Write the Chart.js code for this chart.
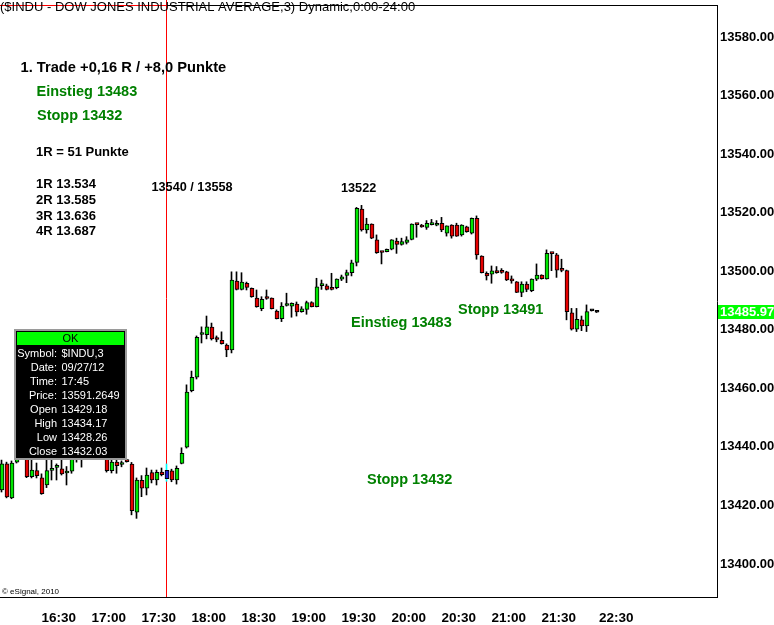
<!DOCTYPE html>
<html>
<head>
<meta charset="utf-8">
<script src="https://cdn.jsdelivr.net/npm/chart.js@4.4.0/dist/chart.umd.min.js"></script>
<style>
  body { margin: 0; background: #fff; }
  canvas { display: block; }
</style>
</head>
<body>
<canvas id="myChart" width="774" height="625"></canvas>
<script>
// 3-minute candles, $INDU 27.09.2012 (bar 0 = left edge of the chart)
const opens = [
  13425.3, 13434.2, 13422.6, 13434.8, 13438.5, 13439.0, 13429.8, 13431.9, 13429.4, 13427.0,
  13432.0, 13433.0, 13432.5, 13431.1, 13431.7, 13437.5, 13439.0, 13440.0, 13442.0, 13441.0,
  13438.0, 13438.0, 13431.9, 13434.8, 13434.0, 13435.3, 13434.1, 13417.7, 13428.6, 13425.9,
  13431.2, 13428.7, 13431.4, 13429.18, 13431.8, 13428.7, 13434.4, 13439.9, 13459.2, 13463.8,
  13478.4, 13478.3, 13480.9, 13476.9, 13476.4, 13474.8, 13473.1, 13496.6, 13493.8, 13495.9,
  13494.2, 13490.8, 13487.2, 13490.9, 13490.8, 13486.4, 13483.8, 13488.3, 13488.1, 13488.8,
  13486.2, 13487.0, 13489.3, 13487.9, 13495.1, 13495.0, 13494.0, 13494.4, 13497.3, 13498.6,
  13499.5, 13503.0, 13521.2, 13514.1, 13516.1, 13510.7, 13506.6, 13506.7, 13507.5, 13510.3,
  13509.2, 13509.8, 13510.9, 13516.1, 13515.3, 13515.0, 13515.9, 13515.7, 13516.4, 13513.0,
  13515.8, 13515.8, 13512.4, 13515.2, 13513.0, 13518.1, 13505.2, 13499.3, 13499.0, 13499.7,
  13499.8, 13499.8, 13496.9, 13496.4, 13492.8, 13495.6, 13493.4, 13497.3, 13498.7, 13497.4,
  13506.2, 13505.6, 13500.5, 13500.2, 13485.8, 13480.2, 13483.4, 13481.3, 13486.5, 13486.0
];
const highs = [
  13435.5, 13434.8, 13435.2, 13439.0, 13441.0, 13440.5, 13435.5, 13434.5, 13430.8, 13435.5,
  13435.5, 13434.2, 13435.5, 13433.3, 13439.0, 13441.0, 13442.0, 13444.0, 13446.0, 13443.0,
  13441.0, 13441.0, 13437.0, 13437.0, 13435.2, 13435.8, 13434.7, 13429.4, 13430.2, 13432.8,
  13432.1, 13432.1, 13432.8, 13434.17, 13432.4, 13433.5, 13439.7, 13461.2, 13465.9, 13477.9,
  13481.0, 13484.7, 13482.3, 13477.9, 13479.3, 13475.2, 13499.8, 13499.8, 13499.5, 13496.3,
  13494.3, 13493.6, 13491.3, 13493.6, 13490.9, 13486.8, 13489.3, 13492.5, 13489.2, 13489.5,
  13487.9, 13489.8, 13489.6, 13497.6, 13497.0, 13495.6, 13499.3, 13497.4, 13498.7, 13500.4,
  13503.8, 13521.8, 13522.5, 13518.1, 13516.2, 13512.4, 13506.7, 13507.6, 13510.8, 13511.3,
  13511.3, 13511.8, 13516.2, 13516.2, 13516.0, 13517.3, 13517.7, 13517.3, 13518.4, 13515.5,
  13515.9, 13516.4, 13515.9, 13515.4, 13518.2, 13518.9, 13505.3, 13499.8, 13501.8, 13501.6,
  13500.9, 13500.0, 13498.4, 13496.5, 13496.4, 13496.4, 13497.4, 13502.5, 13498.8, 13507.3,
  13506.3, 13506.1, 13504.1, 13500.4, 13487.3, 13487.3, 13484.7, 13488.5, 13486.6, 13486.1
];
const lows = [
  13424.6, 13422.6, 13422.3, 13434.5, 13437.5, 13429.5, 13429.4, 13429.4, 13423.8, 13426.1,
  13428.7, 13428.7, 13430.4, 13427.0, 13431.0, 13434.8, 13433.1, 13437.0, 13440.0, 13437.0,
  13436.0, 13431.4, 13431.1, 13431.0, 13433.2, 13434.8, 13416.8, 13415.6, 13423.0, 13423.6,
  13427.7, 13427.0, 13430.1, 13428.26, 13428.1, 13427.3, 13434.2, 13439.6, 13458.8, 13463.2,
  13475.5, 13476.9, 13476.5, 13475.9, 13475.1, 13470.8, 13472.1, 13493.6, 13493.6, 13493.6,
  13491.1, 13487.7, 13486.5, 13490.4, 13487.1, 13483.7, 13482.8, 13488.1, 13484.3, 13484.7,
  13486.0, 13485.3, 13487.8, 13487.8, 13493.8, 13493.6, 13493.6, 13494.0, 13496.8, 13496.1,
  13498.4, 13501.8, 13513.7, 13513.0, 13511.1, 13506.1, 13502.5, 13506.6, 13507.3, 13506.1,
  13508.9, 13509.3, 13510.7, 13511.6, 13515.0, 13514.3, 13515.8, 13515.5, 13513.5, 13512.0,
  13511.3, 13511.9, 13512.0, 13513.3, 13512.7, 13504.1, 13499.4, 13497.0, 13495.9, 13499.3,
  13499.3, 13496.8, 13495.9, 13492.7, 13491.3, 13493.0, 13493.0, 13496.8, 13497.3, 13497.3,
  13500.2, 13497.9, 13499.8, 13483.4, 13479.9, 13479.4, 13479.7, 13479.4, 13486.4, 13485.9
];
const closes = [
  13434.2, 13422.9, 13434.5, 13437.2, 13439.5, 13429.8, 13432.1, 13430.2, 13424.0, 13431.9,
  13432.3, 13433.2, 13430.8, 13431.3, 13437.0, 13438.5, 13438.0, 13442.0, 13441.0, 13438.0,
  13440.0, 13431.9, 13434.8, 13433.6, 13434.6, 13435.0, 13418.2, 13428.7, 13425.9, 13430.4,
  13428.7, 13431.3, 13430.5, 13432.03, 13428.7, 13432.7, 13437.8, 13458.7, 13463.8, 13477.4,
  13478.8, 13481.0, 13476.9, 13476.7, 13475.3, 13473.1, 13497.0, 13493.8, 13496.3, 13494.5,
  13491.3, 13487.9, 13490.4, 13490.7, 13487.2, 13483.8, 13488.1, 13488.5, 13489.0, 13486.1,
  13487.2, 13489.3, 13487.9, 13494.7, 13495.3, 13493.8, 13493.8, 13497.3, 13498.1, 13499.5,
  13502.9, 13521.5, 13514.1, 13516.1, 13511.3, 13506.3, 13506.4, 13507.5, 13510.7, 13509.2,
  13510.1, 13510.7, 13516.1, 13515.9, 13515.1, 13516.4, 13516.4, 13516.4, 13514.1, 13515.5,
  13512.0, 13512.0, 13515.8, 13513.5, 13518.1, 13505.6, 13499.5, 13498.4, 13500.1, 13499.5,
  13499.6, 13497.0, 13496.7, 13492.8, 13495.6, 13493.8, 13497.3, 13498.7, 13497.5, 13506.1,
  13506.0, 13500.4, 13500.3, 13486.2, 13480.2, 13483.6, 13481.3, 13486.2, 13486.5, 13486.0
];

const markedBar = 33;          // bar under the cursor (17:45)
const lastPrice = 13485.97;

const yTicks = [13400, 13420, 13440, 13460, 13480, 13500, 13520, 13540, 13560, 13580];
const tickBars = [8, 18, 28, 38, 48, 58, 68, 78, 88, 98, 108, 119.5];
const tickLabels = ['16:30', '17:00', '17:30', '18:00', '18:30', '19:00', '19:30',
  '20:00', '20:30', '21:00', '21:30', '22:30'];

const tooltipRows = [
  ['Symbol:', '$INDU,3'],
  ['Date:', '09/27/12'],
  ['Time:', '17:45'],
  ['Price:', '13591.2649'],
  ['Open', '13429.18'],
  ['High', '13434.17'],
  ['Low', '13428.26'],
  ['Close', '13432.03'],
];

const GREEN_TXT = '#008000';
const notes = [
  ['1. Trade +0,16 R / +8,0 Punkte', 20.5, 72.3, 14.7, '#000'],
  ['Einstieg 13483', 36.5, 95.7, 14.5, GREEN_TXT],
  ['Stopp 13432', 37, 120, 14.5, GREEN_TXT],
  ['1R = 51 Punkte', 36, 156, 13, '#000'],
  ['1R 13.534', 36, 187.7, 13, '#000'],
  ['2R 13.585', 36, 203.7, 13, '#000'],
  ['3R 13.636', 36, 219.7, 13, '#000'],
  ['4R 13.687', 36, 235.3, 13, '#000'],
  ['13540 / 13558', 151.5, 191, 12.7, '#000'],
  ['13522', 341, 192, 12.7, '#000'],
  ['Einstieg 13483', 351, 327, 14.5, GREEN_TXT],
  ['Stopp 13491', 458, 314, 14.5, GREEN_TXT],
  ['Stopp 13432', 367, 484, 14.5, GREEN_TXT],
];

const idx = opens.map((o, i) => i);
const wickData = idx.map((i) => ({ x: i, y: [lows[i], highs[i]] }));
const bodyData = idx.map((i) => ({
  x: i,
  y: [Math.min(opens[i], closes[i]), Math.max(opens[i], closes[i])],
}));

function bodyColor(ctx) {
  const i = ctx.dataIndex;
  if (i === markedBar) return '#1c1cd0';
  if (closes[i] > opens[i]) return '#00e600';
  if (closes[i] < opens[i]) return '#e60000';
  return '#000';
}

const overlay = {
  id: 'overlay',
  beforeDatasetsDraw(chart) {
    const ctx = chart.ctx;
    const a = chart.chartArea;
    const xm = chart.scales.x.getPixelForValue(markedBar);
    ctx.save();
    ctx.lineWidth = 1;
    // frame
    ctx.strokeStyle = '#000';
    ctx.beginPath();
    ctx.moveTo(xm, a.top + 0.5);
    ctx.lineTo(a.right + 0.5, a.top + 0.5);
    ctx.moveTo(a.right + 0.5, a.top);
    ctx.lineTo(a.right + 0.5, a.bottom + 1);
    ctx.moveTo(0, a.bottom + 0.5);
    ctx.lineTo(a.right + 1, a.bottom + 0.5);
    ctx.stroke();
    // cursor lines
    ctx.strokeStyle = '#ff0000';
    ctx.beginPath();
    ctx.moveTo(0, a.top + 0.5);
    ctx.lineTo(xm, a.top + 0.5);
    ctx.moveTo(xm, 0);
    ctx.lineTo(xm, a.bottom);
    ctx.stroke();
    ctx.restore();
  },
  afterDraw(chart) {
    const ctx = chart.ctx;
    const ys = chart.scales.y;
    ctx.save();
    // title
    ctx.fillStyle = '#000';
    ctx.textBaseline = 'alphabetic';
    ctx.textAlign = 'left';
    ctx.font = '13px "Liberation Sans", Arial, sans-serif';
    ctx.fillText('($INDU - DOW JONES INDUSTRIAL AVERAGE,3) Dynamic,0:00-24:00', 0, 11);

    // notes
    notes.forEach(([t, x, y, s, c]) => {
      ctx.font = 'bold ' + s + 'px "Liberation Sans", Arial, sans-serif';
      ctx.fillStyle = c;
      ctx.fillText(t, x, y);
    });

    // copyright
    ctx.font = '8px "Liberation Sans", Arial, sans-serif';
    ctx.fillStyle = '#000';
    ctx.fillText('\u00a9 eSignal, 2010', 2, 594);

    // cursor data window
    ctx.fillStyle = '#9a9a9a';
    ctx.fillRect(14, 329, 113, 131);
    ctx.fillStyle = '#000';
    ctx.fillRect(16, 331, 109, 127);
    ctx.fillStyle = '#00ff00';
    ctx.fillRect(17, 332, 107, 13);
    ctx.font = '11px "Liberation Sans", Arial, sans-serif';
    ctx.fillStyle = '#000';
    ctx.textAlign = 'center';
    ctx.textBaseline = 'middle';
    ctx.fillText('OK', 70.5, 339);
    ctx.fillStyle = '#fff';
    tooltipRows.forEach(([k, v], i) => {
      const y = 353.5 + i * 14;
      ctx.textAlign = 'right';
      ctx.fillText(k, 57, y);
      ctx.textAlign = 'left';
      ctx.fillText(v, 61.5, y);
    });

    // last price tag
    const py = ys.getPixelForValue(lastPrice);
    ctx.fillStyle = '#00ff00';
    ctx.fillRect(718, Math.round(py) - 7, 56, 14);
    ctx.fillStyle = '#fff';
    ctx.font = 'bold 13px "Liberation Sans", Arial, sans-serif';
    ctx.textAlign = 'left';
    ctx.fillText(lastPrice.toFixed(2), 720, Math.round(py) + 0.5);
    ctx.restore();
  },
};

const config = {
  type: 'bar',
  data: {
    datasets: [
      {
        label: 'body',
        data: bodyData,
        xAxisID: 'xb',
        order: 1,
        grouped: false,
        barThickness: 4,
        minBarLength: 2,
        backgroundColor: bodyColor,
        borderColor: '#000',
        borderWidth: 1,
        borderSkipped: false,
      },
      {
        label: 'wick',
        data: wickData,
        xAxisID: 'x',
        order: 2,
        grouped: false,
        barThickness: 1,
        backgroundColor: (c) => (c.dataIndex === markedBar ? '#00ffff' : '#000'),
        borderWidth: 0,
      },
    ],
  },
  options: {
    responsive: false,
    animation: false,
    devicePixelRatio: 1,
    layout: { padding: { left: 0, top: 5, right: 0, bottom: 0 } },
    plugins: { legend: { display: false }, tooltip: { enabled: false } },
    scales: {
      x: {
        type: 'linear',
        position: 'bottom',
        min: -0.3,
        max: 143.1,
        offset: false,
        grid: { display: false, drawTicks: false },
        border: { display: false },
        afterBuildTicks: (s) => { s.ticks = tickBars.map((v) => ({ value: v })); },
        afterFit: (s) => {
          s.height = 28;
          s.paddingLeft = 0;
          s.paddingRight = 0;
        },
        ticks: {
          autoSkip: false,
          maxRotation: 0,
          align: 'start',
          padding: 13,
          color: '#000',
          font: { family: '"Liberation Sans", Arial, sans-serif', size: 13.5, weight: 'bold' },
          callback: (v, i) => tickLabels[i],
        },
      },
      xb: {
        type: 'linear',
        display: false,
        min: -0.4,
        max: 143.0,
        offset: false,
      },
      y: {
        type: 'linear',
        position: 'right',
        min: 13388.74,
        max: 13590.93,
        grid: { display: false, drawTicks: false },
        border: { display: false },
        afterBuildTicks: (s) => { s.ticks = yTicks.map((v) => ({ value: v })); },
        afterFit: (s) => {
          s.width = 57;
          s.paddingTop = 0;
          s.paddingBottom = 0;
        },
        ticks: {
          padding: 3,
          color: '#000',
          font: { family: '"Liberation Sans", Arial, sans-serif', size: 13, weight: 'bold' },
          callback: (v) => Number(v).toFixed(2),
        },
      },
    },
  },
  plugins: [overlay],
};

const myChart = new Chart(document.getElementById('myChart'), config);
</script>
</body>
</html>
